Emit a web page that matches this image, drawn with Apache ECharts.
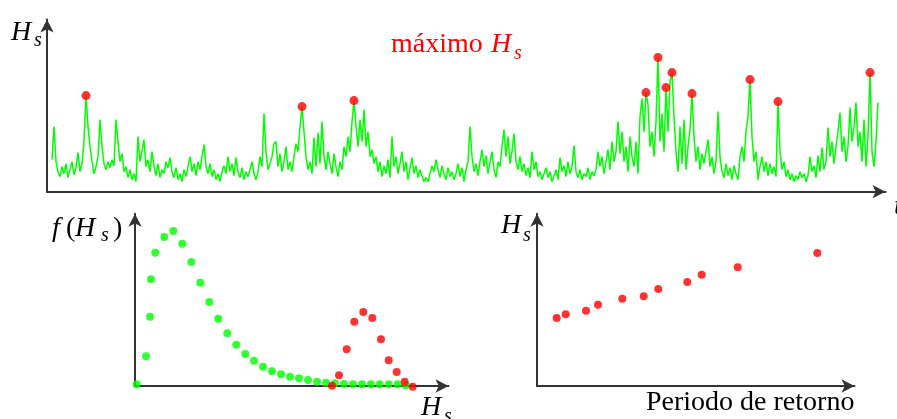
<!DOCTYPE html>
<html>
<head>
<meta charset="utf-8">
<script src="https://cdn.jsdelivr.net/npm/echarts@6/dist/echarts.min.js"></script>
<style>
  html, body { margin: 0; padding: 0; background: #fff; }
  #chart { width: 897px; height: 419px; }
</style>
</head>
<body>
<div id="chart"></div>
<script>
// serie temporal de Hs (un valor por paso de tiempo)
const hsSerie = [
  32, 65, 30, 20, 15, 25, 18, 28, 14, 22, 30, 17, 24, 39, 20, 28, 50, 96, 65, 45,
  30, 18, 25, 35, 72, 45, 28, 22, 30, 24, 32, 26, 72, 50, 30, 38, 20, 25, 14, 22,
  12, 18, 10, 55, 30, 40, 52, 25, 32, 20, 40, 26, 16, 28, 14, 22, 18, 30, 24, 34,
  20, 14, 24, 12, 18, 10, 22, 15, 25, 35, 20, 28, 16, 30, 22, 35, 47, 25, 18, 28,
  15, 22, 12, 18, 10, 20, 26, 18, 35, 20, 28, 16, 34, 20, 14, 24, 12, 20, 15, 22,
  30, 18, 12, 20, 35, 25, 78, 40, 22, 28, 35, 48, 50, 25, 38, 20, 30, 45, 22, 30,
  20, 35, 48, 40, 65, 85, 60, 35, 22, 30, 18, 54, 25, 59, 28, 70, 35, 22, 40, 28,
  18, 38, 25, 15, 30, 22, 45, 35, 55, 40, 70, 91, 65, 45, 72, 50, 82, 45, 60, 35,
  42, 28, 35, 20, 30, 15, 26, 18, 32, 14, 55, 25, 35, 18, 28, 40, 20, 30, 12, 24,
  34, 18, 26, 14, 22, 16, 10, 14, 10, 18, 26, 20, 32, 22, 14, 26, 18, 12, 24, 15,
  20, 12, 18, 28, 15, 24, 10, 22, 30, 65, 35, 20, 28, 16, 30, 42, 25, 36, 18, 30,
  40, 22, 14, 30, 25, 45, 62, 35, 55, 28, 40, 58, 30, 22, 35, 20, 28, 16, 24, 14,
  40, 22, 30, 15, 20, 12, 18, 24, 14, 20, 10, 16, 22, 12, 34, 20, 26, 15, 30, 18,
  25, 46, 20, 14, 22, 12, 18, 15, 24, 12, 20, 16, 22, 40, 25, 35, 18, 30, 42, 22,
  50, 30, 40, 70, 38, 60, 30, 45, 20, 55, 35, 25, 50, 18, 75, 93, 60, 99, 87, 45,
  60, 35, 70, 134, 50, 78, 40, 104, 60, 110, 119, 75, 40, 20, 65, 28, 72, 22, 45, 62,
  98, 55, 30, 45, 22, 38, 28, 40, 52, 25, 35, 18, 30, 80, 35, 20, 14, 28, 16, 24,
  12, 26, 18, 12, 35, 45, 30, 60, 75, 112, 55, 30, 40, 12, 25, 35, 20, 30, 16, 28,
  18, 25, 15, 90, 40, 22, 30, 15, 22, 12, 18, 10, 16, 12, 20, 14, 18, 10, 16, 35,
  20, 26, 14, 36, 20, 44, 22, 30, 64, 35, 50, 28, 45, 60, 79, 40, 55, 30, 45, 84,
  50, 65, 89, 45, 60, 30, 72, 25, 55, 119, 40, 25, 50, 89
]

// máximos seleccionados (paso de tiempo, Hs)
const maxT = [17, 125, 151, 297, 303, 307, 310, 320, 349, 363, 409]
const maxHs = [96, 85, 91, 99, 134, 104, 119, 98, 112, 90, 119]

// f(Hs): distribución de todos los datos
const pdfHsX = [1.7, 11, 15, 16, 20.3, 29.3, 38.3, 47.3, 56.3, 65.3, 74.3, 83.3, 92.3, 101.3, 110.3, 119, 128,
  137, 146, 155, 164, 173, 182, 191, 200, 209, 218, 227, 236, 244.7, 253.7, 262.7, 271]
const pdfHsY = [1.7, 29.7, 69.3, 106.7, 133.3, 149, 155, 142.3, 124, 103.3, 84, 67.3, 52.7, 41.3, 32, 25.3, 19.3,
  14.7, 11.7, 9.3, 7.7, 6, 4.3, 3.3, 2.7, 2, 1.7, 1.7, 1.7, 1.7, 1.7, 1.7, 0.7]

// f(Hs): distribución de los máximos
const pdfMaxX = [197, 204, 211.7, 219.3, 228.3, 237.3, 246, 253.7, 261.7, 269.7, 277.7]
const pdfMaxY = [0.3, 10.7, 36.7, 64.3, 74, 68, 46.7, 25.7, 14, 4.3, -0.7]

// Hs frente a periodo de retorno
const periodo = [19.7, 28.7, 49, 61, 85.3, 106.7, 121.3, 150.3, 164.7, 200.7, 280.3]
const hsRetorno = [68, 71.7, 75.3, 81.3, 87.3, 89.7, 97, 104, 111.3, 118.7, 133]

const GREEN = '#00ff00'
const RED = '#ff0000'
const FONT = '"Liberation Serif", "Times New Roman", serif'

function axisBase(extra) {
  return Object.assign({
    type: 'value',
    axisLine: {
      show: true,
      onZero: false,
      symbol: ['none', 'arrow'],
      symbolSize: [10, 13],
      lineStyle: { color: '#333', width: 2 }
    },
    axisTick: { show: false },
    axisLabel: { show: false },
    splitLine: { show: false }
  }, extra)
}

// texto con baseline aproximada (verticalAlign middle)
function txt(x, y, text, size, italic, color) {
  return {
    type: 'text',
    z: 100,
    style: {
      x: x,
      y: y,
      text: text,
      font: (italic ? 'italic ' : '') + size + 'px ' + FONT,
      fill: color || '#000',
      align: 'left',
      verticalAlign: 'middle',
      textAlign: 'left',
      textVerticalAlign: 'middle'
    }
  }
}

const chart = echarts.init(document.getElementById('chart'), null, { renderer: 'canvas' })

chart.setOption({
  animation: false,
  backgroundColor: '#fff',
  grid: [
    { left: 47, top: 19.5, right: 11.5, bottom: 227.3 },
    { left: 135, top: 213.8, right: 448.5, bottom: 33 },
    { left: 537, top: 213.8, right: 42.5, bottom: 33 }
  ],
  xAxis: [
    axisBase({ gridIndex: 0, min: -2.5, max: 416.75 }),
    axisBase({ gridIndex: 1, min: 0, max: 313.5 }),
    axisBase({ gridIndex: 2, min: 0, max: 317.5 })
  ],
  yAxis: [
    axisBase({ gridIndex: 0, min: 0, max: 172 }),
    axisBase({ gridIndex: 1, min: 0, max: 172.2 }),
    axisBase({ gridIndex: 2, min: 0, max: 172.2 })
  ],
  series: [
    {
      type: 'line',
      xAxisIndex: 0,
      yAxisIndex: 0,
      data: hsSerie.map((v, i) => [i, v]),
      showSymbol: false,
      lineStyle: { color: GREEN, width: 1.5 },
      z: 2
    },
    {
      type: 'scatter',
      xAxisIndex: 0,
      yAxisIndex: 0,
      data: maxT.map((t, i) => [t, maxHs[i]]),
      symbolSize: 9,
      itemStyle: { color: RED },
      z: 3
    },
    {
      type: 'scatter',
      xAxisIndex: 1,
      yAxisIndex: 1,
      clip: false,
      data: pdfHsX.map((x, i) => [x, pdfHsY[i]]),
      symbolSize: 8,
      itemStyle: { color: GREEN },
      z: 2
    },
    {
      type: 'scatter',
      xAxisIndex: 1,
      yAxisIndex: 1,
      clip: false,
      data: pdfMaxX.map((x, i) => [x, pdfMaxY[i]]),
      symbolSize: 8,
      itemStyle: { color: RED },
      z: 3
    },
    {
      type: 'scatter',
      xAxisIndex: 2,
      yAxisIndex: 2,
      data: periodo.map((x, i) => [x, hsRetorno[i]]),
      symbolSize: 8,
      itemStyle: { color: RED },
      z: 3
    }
  ],
  graphic: [
    // panel superior
    txt(11, 32.2, 'H', 28, true),
    txt(34, 41.2, 's', 20, true),
    txt(894, 207, 't', 28, true),
    txt(391, 44.8, 'máximo', 28, false, RED),
    txt(491, 44.8, 'H', 28, true, RED),
    txt(514, 54.2, 's', 20, true, RED),
    // panel f(Hs)
    txt(52, 228.5, 'f', 28, true),
    txt(66, 228.5, '(', 28, false),
    txt(75, 228.5, 'H', 28, true),
    txt(101, 236.2, 's', 20, true),
    txt(113, 228.5, ')', 28, false),
    txt(421, 407.5, 'H', 28, true),
    txt(444, 417, 's', 20, true),
    // panel periodo de retorno
    txt(501, 225.5, 'H', 28, true),
    txt(523, 235.7, 's', 20, true),
    txt(646, 402.5, 'Periodo de retorno', 28, false)
  ]
})
</script>
</body>
</html>
